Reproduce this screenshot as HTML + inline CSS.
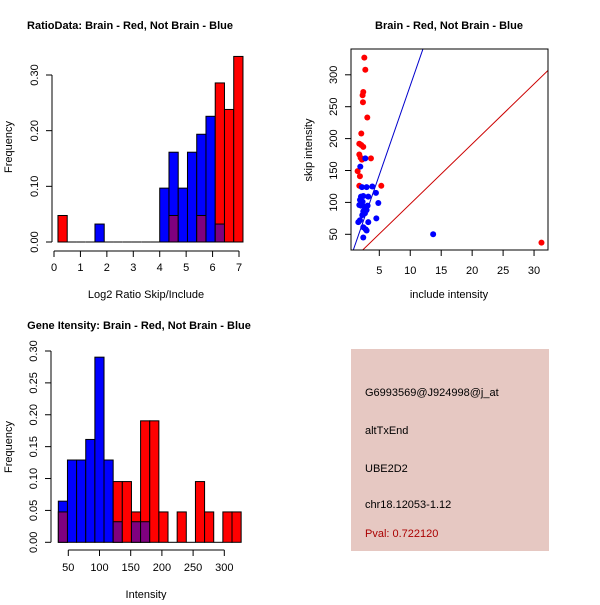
<!DOCTYPE html>
<html><head><meta charset="utf-8"><style>
body{margin:0;background:#fff}
svg{font-family:"Liberation Sans",sans-serif}
text{font-size:11px}
.t{font-weight:bold;font-size:11px}
</style></head><body>
<svg id="s" width="600" height="600"></svg>
<script>
// Ratio histogram data
const ratioBreakStart = 0.15, ratioBinWidth = 0.35;
const ratioRed = [1/21,0,0,0,0,0,0,0,0,0,0,0,1/21,0,0,1/21,0,6/21,5/21,7/21];
const ratioBlue = [0,0,0,0,1/31,0,0,0,0,0,0,3/31,5/31,3/31,5/31,6/31,7/31,1/31,0,0];
const ratioXTicks = [0,1,2,3,4,5,6,7];
const freqTicks1 = ["0.00","0.10","0.20","0.30"];
const freqTickVals1 = [0,0.1,0.2,0.3];
// Intensity histogram data
const intBreakStart = 34, intBinWidth = 14.65;
const intRed = [1/21,0,0,0,0,0,2/21,2/21,1/21,4/21,4/21,1/21,0,1/21,0,2/21,1/21,0,1/21,1/21];
const intBlue = [2/31,4/31,4/31,5/31,9/31,4/31,1/31,0,1/31,1/31,0,0,0,0,0,0,0,0,0,0];
const intXTicks = [50,100,150,200,250,300];
const freqTickVals3 = [0,0.05,0.1,0.15,0.2,0.25,0.3];
const freqTicks3 = ["0.00","0.05","0.10","0.15","0.20","0.25","0.30"];
// Scatter data
const redX = [2.58,2.74,2.41,2.3,2.36,3.06,2.09,1.77,2.09,2.41,1.77,1.98,2.2,3.65,1.5,1.87,1.77,5.32,31.2];
const redY = [327,308,273,268,257,233,208,192,190,187,175,170,167,169,149,141,126,126,37];
const blueX = [2.74,1.93,2.2,2.95,3.87,4.46,2.04,2.41,3.22,1.88,2.3,1.77,2.04,4.84,2.58,3.11,2.95,2.41,2.68,2.25,4.52,1.88,1.61,3.22,2.41,2.79,2.95,2.41,13.7];
const blueY = [169,156,124,124,125,115,109,110,109,104,101,96,95,99,93,95,88,86,83,80,75,72,69,69,61,58,56,45,50];
const lineBlue = [28.0, 3.0];   // slope, intercept
const lineRed = [9.4, 3.6];
const scXTicks = [5,10,15,20,25,30];
const scYTicks = [50,100,150,200,250,300];

const S = document.getElementById('s'), NS = 'http://www.w3.org/2000/svg';
function mk(tag, attrs, parent, txt){const e=document.createElementNS(NS,tag);for(const k in attrs)e.setAttribute(k,attrs[k]);if(txt!==undefined)e.textContent=txt;(parent||S).appendChild(e);return e;}
function grp(name){const g=mk('g',{});return g;}

function hist(name, start, w, red, blue, xs, ys, yAxisX, xAxisY, xt, ytv, ytl, tickLabY){
  const g = grp(name);
  for(let i=0;i<red.length;i++){
    const x0=xs(start+i*w), x1=xs(start+(i+1)*w);
    const r=red[i], b=blue[i];
    const hi=Math.max(r,b), lo=Math.min(r,b);
    if(hi>0){
      const c = r>=b ? '#ff0000' : '#0000ff';
      const e=mk('rect',{x:x0,y:ys(hi),width:x1-x0,height:ys(0)-ys(hi),fill:c,stroke:'#000','stroke-width':1},g);
      
      
      if(lo>0){
        const p=mk('rect',{x:x0,y:ys(lo),width:x1-x0,height:ys(0)-ys(lo),fill:'#7f007f',stroke:'#000','stroke-width':1},g);
        
        
      }
    } else {
      mk('line',{x1:x0,x2:x1,y1:ys(0),y2:ys(0),stroke:'#000'},g);
    }
  }
  const ax = grp(name+'-x-axis'); g.appendChild(ax);
  mk('line',{x1:xs(xt[0]),x2:xs(xt[xt.length-1]),y1:xAxisY,y2:xAxisY,stroke:'#000'},ax);
  xt.forEach(v=>{mk('line',{x1:xs(v),x2:xs(v),y1:xAxisY,y2:xAxisY+6,stroke:'#000'},ax);
    const t=mk('text',{x:xs(v),y:tickLabY,'text-anchor':'middle'},ax,String(v));
    
    });
  const ay = grp(name+'-y-axis'); g.appendChild(ay);
  mk('line',{x1:yAxisX,x2:yAxisX,y1:ys(ytv[0]),y2:ys(ytv[ytv.length-1]),stroke:'#000'},ay);
  ytv.forEach((v,i)=>{mk('line',{x1:yAxisX,x2:yAxisX-6,y1:ys(v),y2:ys(v),stroke:'#000'},ay);
    const tx=yAxisX-14;
    const t=mk('text',{x:tx,y:ys(v),'text-anchor':'middle',transform:`rotate(-90 ${tx} ${ys(v)})`},ay,ytl[i]);
    
    });
}

// Plot 1
const xs1 = v=>54+v*26.43, ys1 = v=>242-v*556.7;
hist('ratio-histogram', ratioBreakStart, ratioBinWidth, ratioRed, ratioBlue, xs1, ys1, 52, 251, ratioXTicks, freqTickVals1, freqTicks1, 271);
// Plot 3
const xs3 = v=>68.3+(v-50)*0.624, ys3 = v=>542.3-v*637.7;
hist('intensity-histogram', intBreakStart, intBinWidth, intRed, intBlue, xs3, ys3, 51, 550, intXTicks, freqTickVals3, freqTicks3, 571);

// Plot 2 scatter
const xs2 = v=>379.3+(v-5)*6.19, ys2 = v=>234.3-(v-50)*0.638;
const sg = grp('scatter-plot');
const cp = mk('clipPath',{id:'cp'},sg); mk('rect',{x:351,y:49,width:197,height:201},cp);
[[lineBlue,'#0000cc','blue-fit-line'],[lineRed,'#cc0000','red-fit-line']].forEach(([L,c,n])=>{
  const l=mk('line',{x1:xs2(0),y1:ys2(L[1]),x2:xs2(40),y2:ys2(L[0]*40+L[1]),stroke:c,'clip-path':'url(#cp)'},sg);
  
  
});
redX.forEach((x,i)=>{const c=mk('circle',{cx:xs2(x),cy:ys2(redY[i]),r:3,fill:'#ff0000','clip-path':'url(#cp)'},sg);
  
  });
blueX.forEach((x,i)=>{const c=mk('circle',{cx:xs2(x),cy:ys2(blueY[i]),r:3,fill:'#0000ff','clip-path':'url(#cp)'},sg);
  
  });
mk('rect',{x:351,y:49,width:197,height:201,fill:'none',stroke:'#000'},sg);
scXTicks.forEach(v=>{mk('line',{x1:xs2(v),x2:xs2(v),y1:250,y2:256,stroke:'#000'},sg);
  const t=mk('text',{x:xs2(v),y:274,'text-anchor':'middle'},sg,String(v));
  
  });
scYTicks.forEach(v=>{mk('line',{x1:351,x2:345,y1:ys2(v),y2:ys2(v),stroke:'#000'},sg);
  const t=mk('text',{x:337,y:ys2(v),'text-anchor':'middle',transform:`rotate(-90 337 ${ys2(v)})`},sg,String(v));
  
  });
</script>
<svg width="600" height="600" style="position:absolute;left:0;top:0">
<text class="t" x="130" y="29" text-anchor="middle">RatioData: Brain - Red, Not Brain - Blue</text>
<text x="146" y="298" text-anchor="middle">Log2 Ratio Skip/Include</text>
<text x="12" y="147" text-anchor="middle" transform="rotate(-90 12 147)">Frequency</text>
<text class="t" x="449" y="29" text-anchor="middle">Brain - Red, Not Brain - Blue</text>
<text x="449" y="298" text-anchor="middle">include intensity</text>
<text x="312" y="150" text-anchor="middle" transform="rotate(-90 312 150)">skip intensity</text>
<text class="t" x="139" y="329" text-anchor="middle">Gene Itensity: Brain - Red, Not Brain - Blue</text>
<text x="146" y="598" text-anchor="middle">Intensity</text>
<text x="12" y="447" text-anchor="middle" transform="rotate(-90 12 447)">Frequency</text>
<g>
<rect x="351" y="349" width="198" height="202" fill="#e6c8c2"/>
<text x="365" y="396">G6993569@J924998@j_at</text>
<text x="365" y="434">altTxEnd</text>
<text x="365" y="472">UBE2D2</text>
<text x="365" y="508">chr18.12053-1.12</text>
<text x="365" y="537" fill="#aa0000">Pval: 0.722120</text>
</g>
</svg>
</body></html>
